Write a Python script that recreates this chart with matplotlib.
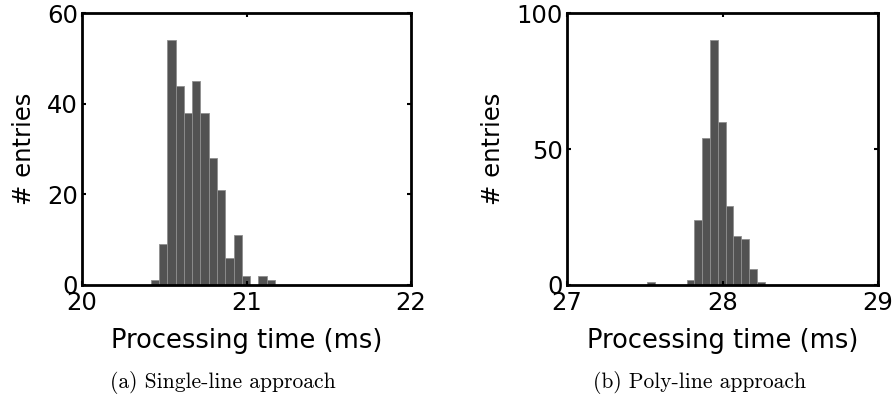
import numpy as np
import matplotlib
matplotlib.use("Agg")
import matplotlib.pyplot as plt

plt.rcParams['font.family'] = ['DejaVu Sans']

# histogram (a): single-line approach
single_start = 20.418
single_width = 0.0503
single_counts = [1, 9, 54, 44, 38, 45, 38, 28, 21, 6, 11, 2, 0, 2, 1]

# histogram (b): poly-line approach
poly_start = 27.517
poly_width = 0.0503
poly_counts = [1, 0, 0, 0, 0, 2, 24, 54, 90, 60, 29, 18, 17, 6, 1]

panels = [
    dict(start=single_start, width=single_width, counts=single_counts,
         xlim=(20, 22), xticks=[20, 21, 22], ylim=(0, 60), yticks=[0, 20, 40, 60],
         rect=[82/896, 1-285/398, 329/896, 272/398],
         caption="(a) Single-line approach", cap_x=223/896),
    dict(start=poly_start, width=poly_width, counts=poly_counts,
         xlim=(27, 29), xticks=[27, 28, 29], ylim=(0, 100), yticks=[0, 50, 100],
         rect=[567/896, 1-285/398, 311/896, 272/398],
         caption="(b) Poly-line approach", cap_x=700/896),
]

fig = plt.figure(figsize=(8.96, 3.98), dpi=100)

for p in panels:
    ax = fig.add_axes(p['rect'])
    counts = np.array(p['counts'])
    lefts = p['start'] + p['width'] * np.arange(len(counts))
    ax.bar(lefts, counts, width=p['width'], align='edge',
           color='#525252', edgecolor='#8e8e8e', linewidth=0.6)
    ax.set_xlim(*p['xlim'])
    ax.set_ylim(*p['ylim'])
    ax.set_xticks(p['xticks'])
    ax.set_yticks(p['yticks'])
    ax.tick_params(direction='in', length=3, width=1.5, top=True, right=True,
                   labelsize=17.5, colors='black')
    ax.tick_params(axis='x', pad=4)
    ax.tick_params(axis='y', pad=3)
    for s in ax.spines.values():
        s.set_linewidth(2)
    ax.set_xlabel("Processing time (ms)", fontsize=18.5, labelpad=10)
    ax.set_ylabel("# entries", fontsize=17.5, labelpad=8)
    fig.text(p['cap_x'], 0.038, p['caption'], ha='center', va='center',
             fontsize=15.5, family='cmr10')

plt.savefig("out.png", dpi=100)
